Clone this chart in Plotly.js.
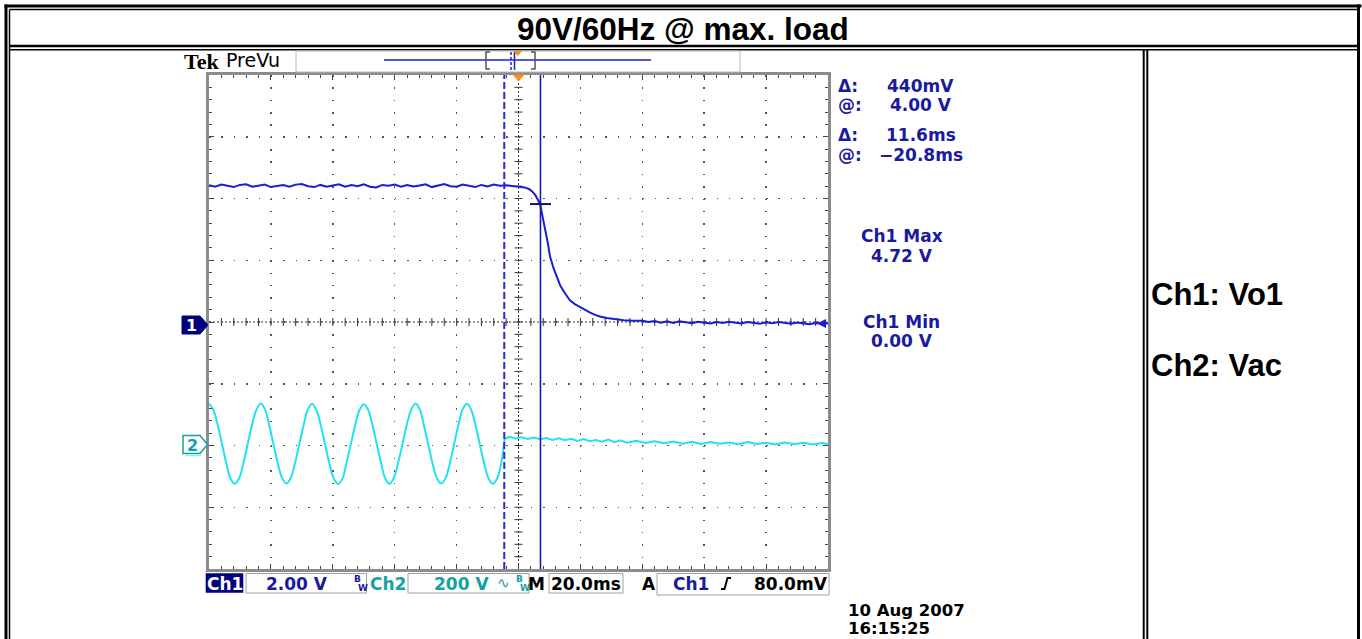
<!DOCTYPE html>
<html><head><meta charset="utf-8">
<script src="https://cdn.plot.ly/plotly-3.0.1.min.js"></script>
<style>html,body{margin:0;padding:0;background:#fff;}#chart{width:1362px;height:639px;}</style>
</head><body><div id="chart"></div>
<script>
// ---------------- DATA ----------------
// time in ms (20 ms/div, trigger at 0), Ch1 in V (2 V/div), Ch2 in V (200 V/div)
const ch1_t = [-100,-98,-96,-94,-92,-90,-88,-86,-84,-82,-80,-78,-76,-74,-72,-70,-68,-66,-64,-62,
  -60,-58,-56,-54,-52,-50,-48,-46,-44,-42,-40,-38,-36,-34,-32,-30,-28,-26,-24,-22,
  -20,-18,-16,-14,-12,-10,-8,-6,-4,
  -2,0,2,3.5,4.5,5.5,6.3,7.0,7.5,8.0,8.6,9.4,10.2,11.3,12.5,13.4,15.0,16.6,18.2,19.9,21.5,23.0,24.6,26.3,28.5,31.2,34.0,37.0,
  40,42,44,46,48,50,52,54,56,58,60,62,64,66,68,70,72,74,76,78,80,82,84,86,88,90,92,94,96,98,100];
const ch1_v = [4.43,4.38,4.45,4.40,4.37,4.44,4.46,4.38,4.42,4.45,
  4.37,4.41,4.44,4.38,4.45,4.47,4.40,4.37,4.44,4.38,
  4.42,4.46,4.38,4.44,4.40,4.46,4.38,4.36,4.44,4.41,
  4.45,4.38,4.44,4.39,4.42,4.46,4.37,4.43,4.47,4.40,
  4.38,4.45,4.41,4.37,4.44,4.39,4.45,4.41,4.43,
  4.40,4.39,4.36,4.30,4.22,4.10,3.97,3.82,3.55,3.30,3.05,2.60,2.12,1.75,1.44,1.20,0.93,0.70,0.58,0.48,0.38,0.31,0.24,0.18,0.13,0.09,0.06,0.04,
  0.04,0.00,0.03,-0.02,0.02,-0.03,0.02,-0.01,-0.04,0.01,-0.02,-0.05,0.00,-0.03,0.01,-0.03,-0.05,0.00,-0.03,-0.06,-0.01,-0.04,0.00,-0.04,-0.06,-0.02,-0.04,-0.07,-0.03,-0.05,-0.05];

const ch2_sine_t = [-100.0,-98.6,-97.2,-95.8,-94.4,-93.1,-91.7,-90.3,-88.9,-87.5,-86.1,-84.7,
  -83.3,-81.9,-80.6,-79.2,-77.8,-76.4,-75.0,-73.6,-72.2,-70.8,-69.4,-68.1,
  -66.7,-65.3,-63.9,-62.5,-61.1,-59.7,-58.3,-56.9,-55.6,-54.2,-52.8,-51.4,
  -50.0,-48.6,-47.2,-45.8,-44.4,-43.1,-41.7,-40.3,-38.9,-37.5,-36.1,-34.7,
  -33.3,-31.9,-30.6,-29.2,-27.8,-26.4,-25.0,-23.6,-22.2,-20.8,-19.4,-18.1,
  -16.7,-15.3,-13.9,-12.5,-11.1,-9.7,-8.3,-6.9,-5.6,-4.4];
const ch2_sine_v = [135,116,67,5,-57,-106,-124,-107,-58,4,66,115,
  136,117,68,6,-56,-105,-123,-106,-57,5,67,116,
  135,115,66,4,-58,-107,-125,-108,-58,3,65,114,
  134,116,67,5,-57,-106,-124,-106,-57,4,66,115,
  136,117,67,5,-57,-105,-123,-107,-58,5,67,116,
  135,116,66,4,-58,-106,-124,-107,-57,22];
const ch2_off_t = [-4.4,-3,-1,1,3,5,7,9,11,13,15,17,19,21,23,25,27,29,31,33,
  35,38,41,44,47,50,53,56,59,62,65,68,71,74,77,80,83,86,89,92,95,98,100];
const ch2_off_v = [22,28,23,27,21,26,20,24,18,23,17,22,15,21,14,18,12,19,11,17,
  9,15,8,14,7,13,6,12,5,11,6,10,4,11,5,9,3,10,4,9,3,8,5];

const cursor_t = [-4.6, 7.1];   // ms (dashed, solid)
const cursor_v = [3.82];        // V on Ch1 (cross)
const trigger_t = [0];
const ch_offsets_div = [0, -2]; // Ch1, Ch2 ground positions in divisions

const measure_lines = [["Δ:","440mV"],["@:","4.00 V"],["Δ:","11.6ms"],["@:","−20.8ms"]];
const minmax_lines = ["Ch1 Max","4.72 V","Ch1 Min","0.00 V"];
const title_text = "90V/60Hz @ max. load";
const legend_lines = ["Ch1: Vo1","Ch2: Vac"];
const date_lines = ["10 Aug 2007","16:15:25"];

// ---------------- GEOMETRY ----------------
const W=1362,H=639,PL=209,PR=828,PT=75,PB=569,PW=PR-PL,PH=PB-PT;
const X_RANGE=[-100,100];
const Y1_RANGE=[-8,8];
const Y2_RANGE=[(-4-ch_offsets_div[1])*200,(4-ch_offsets_div[1])*200];
const fx=x=>(x-PL)/PW, fy=y=>(PB-y)/PH;
const tPx=t=>PL+(t-X_RANGE[0])/(X_RANGE[1]-X_RANGE[0])*PW;
const v1Px=v=>PB-(v-Y1_RANGE[0])/(Y1_RANGE[1]-Y1_RANGE[0])*PH;
const v2Px=v=>PB-(v-Y2_RANGE[0])/(Y2_RANGE[1]-Y2_RANGE[0])*PH;

const NAVY='#1a1a9e', TEAL='#12a2a2', BLUE='#1c1cd2', CYAN='#22e2f0';
const shapes=[], ann=[];
function line(x0,y0,x1,y1,color,width,dash){shapes.push({type:'line',xref:'paper',yref:'paper',x0:fx(x0),y0:fy(y0),x1:fx(x1),y1:fy(y1),line:{color:color,width:width,dash:dash||'solid'},layer:'above'});}
function rect(x0,y0,x1,y1,color,width,fill){shapes.push({type:'rect',xref:'paper',yref:'paper',x0:fx(x0),y0:fy(y0),x1:fx(x1),y1:fy(y1),line:{color:color,width:width},fillcolor:fill||'rgba(0,0,0,0)',layer:'above'});}
function poly(pts,fill,color,width,closed){shapes.push({type:'path',xref:'paper',yref:'paper',path:'M'+pts.map(p=>fx(p[0])+','+fy(p[1])).join('L')+(closed===false?'':'Z'),fillcolor:fill||'rgba(0,0,0,0)',line:{color:color||'rgba(0,0,0,0)',width:width||0},layer:'above'});}
function text(s,x,y,o){o=o||{};ann.push({text:s,xref:'paper',yref:'paper',x:fx(x),y:fy(y),xanchor:o.anchor||'left',yanchor:'middle',showarrow:false,font:{family:o.family||'DejaVu Sans',size:o.size||17,color:o.color||'#000'}});}

// ---- table borders ----
line(4.5,6,1361.5,6,'#000',3);
line(9.5,9.5,1357,9.5,'#000',1.5);
line(6,4.5,6,650,'#000',3);
line(9.5,9.5,9.5,650,'#000',1.5);
line(1358.5,4.5,1358.5,650,'#000',3);
line(9.5,46,1357,46,'#000',2.5);
line(9.5,49.7,1357,49.7,'#000',1.5);
line(1143.7,49,1143.7,650,'#000',2);
line(1147.3,49,1147.3,650,'#000',2);

text('<b>'+title_text+'</b>',683,29,{anchor:'center',family:'Liberation Sans, Arial',size:31.5});
text('<b>'+legend_lines[0]+'</b>',1149,294,{family:'Liberation Sans, Arial',size:31});
text('<b>'+legend_lines[1]+'</b>',1149,365,{family:'Liberation Sans, Arial',size:31});

// ---- scope header ----
text('<b>Tek</b>',182,61,{family:'Liberation Serif',size:22});
text('PreVu',224,60,{size:19});
rect(296,51,740,72,'#b8b8b8',1);
line(384,60,651,60,BLUE,1.5);
line(486,52,486,69,'#555',1.5); line(485.5,52,490,52,'#555',1.5); line(485.5,69,490,69,'#555',1.5);
line(535,52,535,69,'#555',1.5); line(531,52,535.5,52,'#555',1.5); line(531,69,535.5,69,'#555',1.5);
line(511,52,511,70,BLUE,1.5,'3px,2px');
line(514.5,52,514.5,70,BLUE,1.5);
poly([[513.5,51],[522,51],[517.7,56]],'#ff8a14');

// ---- trigger marker on graticule ----
const trgX=tPx(trigger_t[0]);
poly([[trgX-6,74.5],[trgX+6,74.5],[trgX,81.5]],'#ff8a14');

// ---- channel ground markers ----
const c1=v1Px(0)+3, c2=v2Px(0)-1;
poly([[182,c1-9],[200,c1-9],[208,c1],[200,c1+9],[182,c1+9]],'#000080','#000080',1);
text('<b>1</b>',191.5,c1+0.5,{anchor:'center',color:'#fff',size:16});
poly([[183,c2-9],[200,c2-9],[207.5,c2],[200,c2+9],[183,c2+9]],'#fff',TEAL,1.5);
line(185,c2+11,201,c2+11,'#8fd',1.5);
text('<b>2</b>',192,c2+0.5,{anchor:'center',color:TEAL,size:16});

// ---- measurement readouts ----
const my=[85.5,105,135.5,155];
measure_lines.forEach((m,i)=>{text('<b>'+m[0]+'</b>',836,my[i],{color:NAVY});text('<b>'+m[1]+'</b>',920.5,my[i],{anchor:'center',color:NAVY});});
const mmy=[236,255.5,321.5,341];
minmax_lines.forEach((m,i)=>text('<b>'+m+'</b>',901.5,mmy[i],{anchor:'center',color:NAVY}));

// ---- status bar ----
rect(205.7,573.3,243.3,592.7,'#000080',0,'#000080');
text('<b>Ch1</b>',224.5,584,{anchor:'center',color:'#fff'});
rect(246,573.5,366.5,593,'#a0a0a0',1);
text('<b>2.00 V</b>',297,584,{anchor:'center',color:NAVY});
text('<b>B</b>',357.5,579,{anchor:'center',color:NAVY,size:9});
text('<b>W</b>',362.5,587.5,{anchor:'center',color:NAVY,size:9});
text('<b>Ch2</b>',387.5,584,{anchor:'center',color:TEAL});
rect(408,573.5,529,593,'#a0a0a0',1);
text('<b>200 V</b>',461.5,584,{anchor:'center',color:TEAL});
text('∿',503,583,{anchor:'center',color:TEAL,size:15});
text('<b>B</b>',519.5,579,{anchor:'center',color:TEAL,size:9});
text('<b>W</b>',524.5,587.5,{anchor:'center',color:TEAL,size:9});
text('<b>M</b>',536.5,584,{anchor:'center'});
rect(549,573.5,623,593,'#a0a0a0',1);
text('<b>20.0ms</b>',586,584,{anchor:'center'});
text('<b>A</b>',649,584,{anchor:'center'});
rect(657,573.5,829,595,'#a0a0a0',1);
text('<b>Ch1</b>',690.5,584,{anchor:'center',color:NAVY});
poly([[721,589],[724.5,589],[727.5,578],[731,578]],null,'#000',2,false);
text('<b>80.0mV</b>',790.5,584,{anchor:'center'});
text('<b>'+date_lines[0]+'</b>',846,610.5,{size:16.5});
text('<b>'+date_lines[1]+'</b>',846,628.5,{size:16.5});

// ---- graticule centre lines with ticks (data space) ----
shapes.push({type:'line',xref:'x',yref:'paper',x0:0,x1:0,y0:0,y1:1,line:{color:'#333',width:1,dash:'2px,2px'},layer:'below'});
shapes.push({type:'line',xref:'paper',yref:'y',x0:0,x1:1,y0:0,y1:0,line:{color:'#333',width:1,dash:'2px,2px'},layer:'below'});
const dvTick=4*(Y1_RANGE[1]-Y1_RANGE[0])/PH, dtTick=4*(X_RANGE[1]-X_RANGE[0])/PW;
let tp='';
for(let i=-24;i<=24;i++){const t=i*4;tp+=`M${t},${-dvTick}L${t},${dvTick}`;}
for(let j=-19;j<=19;j++){const v=j*0.4;tp+=`M${-dtTick},${v}L${dtTick},${v}`;}
shapes.push({type:'path',xref:'x',yref:'y',path:tp,line:{color:'#333',width:1},layer:'below'});

// ---- cursors ----
shapes.push({type:'line',xref:'x',yref:'paper',x0:cursor_t[0],x1:cursor_t[0],y0:0,y1:1,line:{color:'#2a2ad0',width:2,dash:'7px,3px'},layer:'above'});
shapes.push({type:'line',xref:'x',yref:'paper',x0:cursor_t[1],x1:cursor_t[1],y0:0,y1:1,line:{color:'#1818b8',width:1.6},layer:'above'});
shapes.push({type:'line',xref:'x',yref:'y',x0:cursor_t[1]-3.4,x1:cursor_t[1]+3.4,y0:cursor_v[0],y1:cursor_v[0],line:{color:'#10107a',width:2},layer:'above'});

// ---- Ch1 end marker ----
const endY=v1Px(ch1_v[ch1_v.length-1]);
poly([[PR-11,endY],[PR-2,endY-4.5],[PR-2,endY+4.5]],BLUE);

// ---------------- TRACES ----------------
const traces=[
 {x:ch2_sine_t,y:ch2_sine_v,yaxis:'y2',type:'scatter',mode:'lines',line:{color:CYAN,width:2,shape:'spline'},hoverinfo:'skip'},
 {x:ch2_off_t,y:ch2_off_v,yaxis:'y2',type:'scatter',mode:'lines',line:{color:CYAN,width:2},hoverinfo:'skip'},
 {x:ch1_t,y:ch1_v,yaxis:'y',type:'scatter',mode:'lines',line:{color:BLUE,width:2},hoverinfo:'skip'}
];

const dotX=1.5, gapV=PH/40-dotX, gapH=PW/50-dotX;
const layout={
 width:W,height:H,margin:{l:PL,r:W-PR,t:PT,b:H-PB,pad:0},
 paper_bgcolor:'#fff',plot_bgcolor:'#fff',showlegend:false,
 xaxis:{range:X_RANGE,showgrid:true,gridcolor:'#555',gridwidth:1.5,griddash:`${dotX}px,${gapV}px`,
   tick0:-100,dtick:20,ticks:'inside',ticklen:5,tickwidth:1,tickcolor:'#444',
   minor:{tick0:-100,dtick:4,ticks:'inside',ticklen:3,tickwidth:1,tickcolor:'#444',showgrid:false},
   showline:true,linecolor:'#8c8c8c',linewidth:3,mirror:'ticks',showticklabels:false,zeroline:false,fixedrange:true},
 yaxis:{range:Y1_RANGE,showgrid:true,gridcolor:'#555',gridwidth:1.5,griddash:`${dotX}px,${gapH}px`,
   tick0:-8,dtick:2,ticks:'inside',ticklen:5,tickwidth:1,tickcolor:'#444',
   minor:{tick0:-8,dtick:0.4,ticks:'inside',ticklen:3,tickwidth:1,tickcolor:'#444',showgrid:false},
   showline:true,linecolor:'#8c8c8c',linewidth:3,mirror:'ticks',showticklabels:false,zeroline:false,fixedrange:true},
 yaxis2:{range:Y2_RANGE,overlaying:'y',visible:false,fixedrange:true},
 shapes:shapes,annotations:ann
};
Plotly.newPlot('chart',traces,layout,{staticPlot:true,displayModeBar:false});
</script></body></html>
